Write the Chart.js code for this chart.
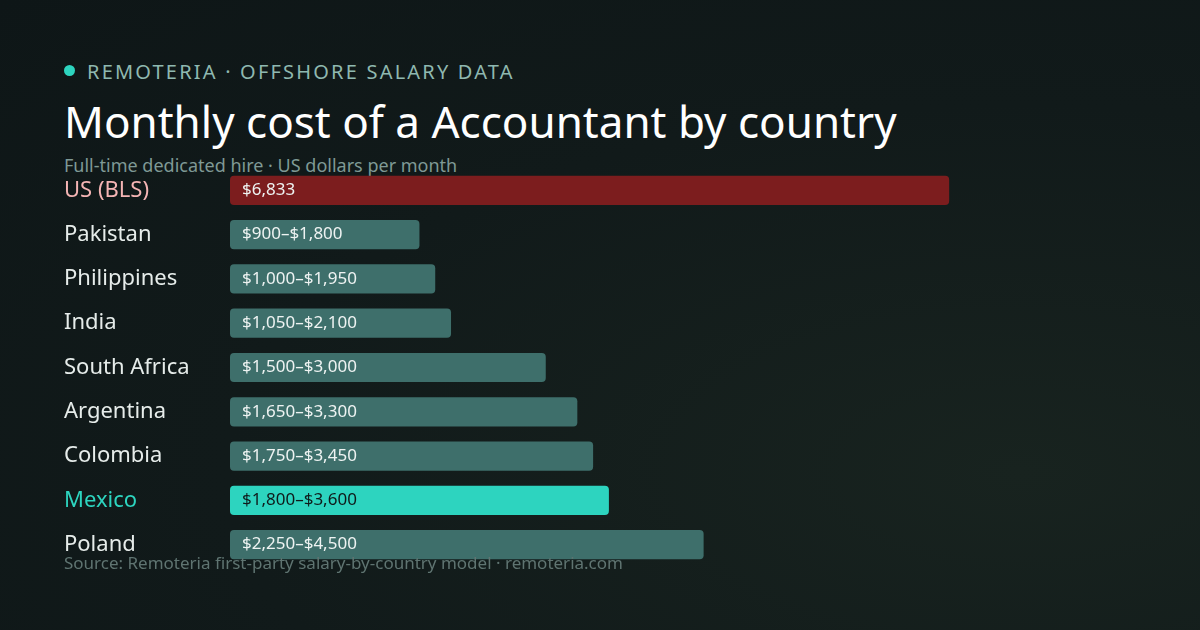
<!DOCTYPE html>
<html>
<head>
<meta charset="utf-8">
<script src="https://cdn.jsdelivr.net/npm/chart.js@4"></script>
<style>
  body { margin: 0; width: 1200px; height: 630px; overflow: hidden;
    background: radial-gradient(ellipse at 85% 75%, #18231f 0%, #111a1a 55%, #0e1617 100%);
    font-family: "Noto Sans", sans-serif; position: relative; }
  .kicker { position: absolute; left: 64px; top: 58px; color: #8fb8b0; font-size: 20px; letter-spacing: 2.2px; }
  .kicker .dot { display: inline-block; width: 11px; height: 11px; border-radius: 50%; background: #2dd4bf; margin-right: 12px; vertical-align: 3px; }
  h1 { position: absolute; left: 64px; top: 91px; margin: 0; color: #ffffff; font-weight: 400; font-size: 44px; }
  .sub { position: absolute; left: 64px; top: 153px; color: #7f9995; font-size: 18px; }
  .src { position: absolute; left: 64px; top: 551px; color: #5f7471; font-size: 17px; }
  #wrap { position: absolute; left: 64px; top: 155px; width: 1008px; height: 425px; }
</style>
</head>
<body>
<div class="kicker"><span class="dot"></span>REMOTERIA · OFFSHORE SALARY DATA</div>
<h1>Monthly cost of a Accountant by country</h1>
<div class="sub">Full-time dedicated hire · US dollars per month</div>
<div id="wrap"><canvas id="myChart"></canvas></div>
<div class="src">Source: Remoteria first-party salary-by-country model · remoteria.com</div>
<script>
const countries = ["US (BLS)", "Pakistan", "Philippines", "India", "South Africa", "Argentina", "Colombia", "Mexico", "Poland"];
const lowValues = [null, 900, 1000, 1050, 1500, 1650, 1750, 1800, 2250];
const highValues = [6833, 1800, 1950, 2100, 3000, 3300, 3450, 3600, 4500];
const barColors = ["#7c1d1e", "#3e6f6b", "#3e6f6b", "#3e6f6b", "#3e6f6b", "#3e6f6b", "#3e6f6b", "#2dd4bf", "#3e6f6b"];
const labelColors = ["#f4b4b4", "#e6ecea", "#e6ecea", "#e6ecea", "#e6ecea", "#e6ecea", "#e6ecea", "#2dd4bf", "#e6ecea"];

const fmt = (v) => "$" + v.toLocaleString("en-US");

const barText = {
  id: "barText",
  afterDatasetsDraw(chart) {
    const c = chart.ctx;
    const meta = chart.getDatasetMeta(0);
    c.save();
    c.font = "17px 'Noto Sans'";
    c.textBaseline = "middle";
    meta.data.forEach((bar, i) => {
      const txt = lowValues[i] == null ? fmt(highValues[i]) : fmt(lowValues[i]) + "–" + fmt(highValues[i]);
      c.fillStyle = i === 7 ? "#0f1a1a" : "#eef3f2";
      c.fillText(txt, bar.base + 12, bar.y);
    });
    c.restore();
  },
};

const ctx = document.getElementById("myChart").getContext("2d");
new Chart(ctx, {
  type: "bar",
  data: {
    labels: countries,
    datasets: [{
      data: highValues,
      backgroundColor: barColors,
      borderRadius: 4,
      borderSkipped: false,
      barPercentage: 0.66,
      categoryPercentage: 1,
    }],
  },
  options: {
    indexAxis: "y",
    responsive: true,
    maintainAspectRatio: false,
    animation: false,
    layout: { padding: 0 },
    plugins: { legend: { display: false }, tooltip: { enabled: false } },
    scales: {
      x: { display: false, min: 0, max: 8000 },
      y: {
        grid: { display: false },
        border: { display: false },
        afterFit(scale) { scale.width = 166; },
        ticks: {
          crossAlign: "far",
          padding: 0,
          color: labelColors,
          font: { family: "Noto Sans", size: 22 },
        },
      },
    },
  },
  plugins: [barText],
});
</script>
</body>
</html>
